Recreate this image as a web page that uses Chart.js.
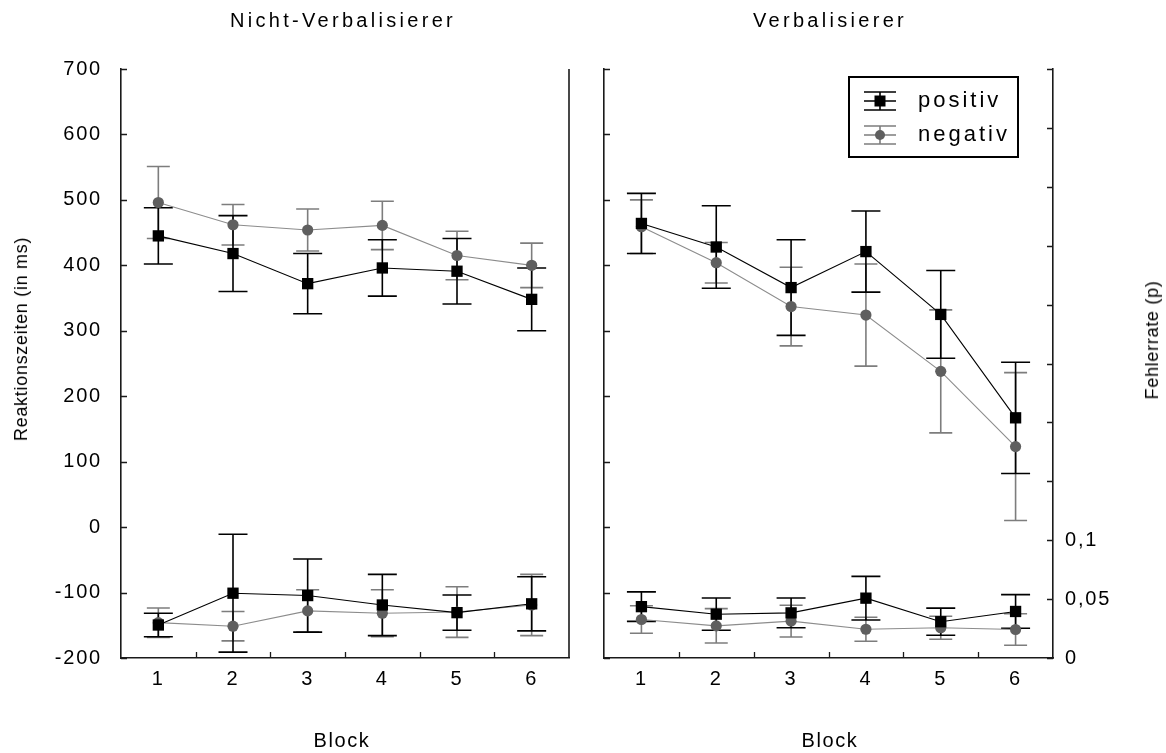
<!DOCTYPE html>
<html lang="de">
<head>
<meta charset="utf-8">
<title>Reaktionszeiten und Fehlerrate</title>
<script src="https://cdn.jsdelivr.net/npm/chart.js@4.4.1/dist/chart.umd.min.js"></script>
<style>
  body { margin: 0; background: #fff; }
  #wrap { position: relative; width: 1166px; height: 753px; font-family: Arial, "Liberation Sans", sans-serif; color: #000; overflow: hidden; }
  canvas { position: absolute; top: 0; }
  #leftChart { left: 0; }
  #rightChart { left: 580px; }
  .lbl { position: absolute; white-space: nowrap; line-height: 1; transform: translate(-50%, -50%); }
  .rot { transform: translate(-50%, -50%) rotate(-90deg); }
</style>
</head>
<body>
<div id="wrap">
  <canvas id="leftChart" width="580" height="753"></canvas>
  <canvas id="rightChart" width="586" height="753"></canvas>

  <div class="lbl" style="left:343px;top:20px;font-size:20px;letter-spacing:3.3px">Nicht-Verbalisierer</div>
  <div class="lbl" style="left:830px;top:20px;font-size:20px;letter-spacing:3.3px">Verbalisierer</div>
  <div class="lbl" style="left:342px;top:740px;font-size:20px;letter-spacing:1.6px">Block</div>
  <div class="lbl" style="left:830px;top:740px;font-size:20px;letter-spacing:1.6px">Block</div>
  <div class="lbl rot" style="left:21px;top:339px;font-size:18px;letter-spacing:0.7px">Reaktionszeiten (in ms)</div>
  <div class="lbl rot" style="left:1152px;top:340px;font-size:18px;letter-spacing:0.7px">Fehlerrate (p)</div>
</div>

<script>
const blocks = ['1', '2', '3', '4', '5', '6'];

// Nicht-Verbalisierer: Reaktionszeiten (ms) und Fehlerraten (p), jeweils Mittelwert und Fehlerbalken
const nvPosRT = [445, 418, 372, 396, 391, 348];
const nvPosRTErr = [43, 58, 46, 43, 50, 48];
const nvNegRT = [496, 462, 454, 461, 415, 400];
const nvNegRTErr = [55, 31, 32, 37, 37, 34];
const nvPosFR = [0.028, 0.055, 0.053, 0.045, 0.0385, 0.046];
const nvPosFRErr = [0.010, 0.050, 0.031, 0.026, 0.015, 0.023];
const nvNegFR = [0.030, 0.027, 0.040, 0.038, 0.039, 0.045];
const nvNegFRErr = [0.0125, 0.0125, 0.018, 0.020, 0.0215, 0.026];

// Verbalisierer
const vPosRT = [464, 428, 366, 421, 325, 167];
const vPosRTErr = [46, 63, 73, 62, 67, 85];
const vNegRT = [459, 404, 337, 324, 238, 123];
const vNegRTErr = [41, 31, 60, 78, 94, 113];
const vPosFR = [0.0436, 0.0372, 0.0383, 0.0508, 0.0308, 0.0395];
const vPosFRErr = [0.0125, 0.0137, 0.0126, 0.0185, 0.0115, 0.0143];
const vNegFR = [0.0327, 0.0273, 0.0313, 0.0244, 0.0257, 0.0242];
const vNegFRErr = [0.0117, 0.0146, 0.0135, 0.0102, 0.0098, 0.0134];

// Achsen
const rtMin = -200, rtMax = 700, rtStep = 100;
const frMin = 0, frMax = 0.5, frStep = 0.05;
const frLabelValues = [0, 0.05, 0.1];
const frLabelTexts = ['0', '0,05', '0,1'];

const seriesNames = ['positiv', 'negativ'];

const FONT = 'Arial, "Liberation Sans", sans-serif';
const AXIS_COLOR = '#1a1a1a';
const POS_STYLE = { line: '#000', point: '#000', bar: '#000', cap: 14.5, shape: 'rect', radius: 8 };
const NEG_STYLE = { line: '#8c8c8c', point: '#5f5f5f', bar: '#7d7d7d', cap: 11.5, shape: 'circle', radius: 5.6 };

function series(values, errors, style, axis, order) {
    return {
        data: values,
        errors: errors,
        errColor: style.bar,
        capHalf: style.cap,
        yAxisID: axis,
        order: order,
        borderColor: style.line,
        borderWidth: 1.1,
        backgroundColor: style.point,
        pointStyle: style.shape,
        pointRadius: style.radius,
        pointHoverRadius: style.radius,
        pointBackgroundColor: style.point,
        pointBorderColor: style.point,
        pointBorderWidth: 0,
        tension: 0,
        fill: false
    };
}

// Fehlerbalken unter den Punkten
const errorBars = {
    id: 'errorBars',
    beforeDatasetsDraw(chart) {
        const ctx = chart.ctx;
        const sets = chart.data.datasets.map((ds, i) => i).sort((a, b) => chart.data.datasets[b].order - chart.data.datasets[a].order);
        ctx.save();
        sets.forEach(i => {
            const ds = chart.data.datasets[i];
            const meta = chart.getDatasetMeta(i);
            const scale = chart.scales[ds.yAxisID];
            ctx.strokeStyle = ds.errColor;
            ctx.lineWidth = 1.6;
            ctx.beginPath();
            meta.data.forEach((pt, j) => {
                const top = scale.getPixelForValue(ds.data[j] + ds.errors[j]);
                const bot = scale.getPixelForValue(ds.data[j] - ds.errors[j]);
                ctx.moveTo(pt.x, top); ctx.lineTo(pt.x, bot);
                ctx.moveTo(pt.x - ds.capHalf, top); ctx.lineTo(pt.x + ds.capHalf, top);
                ctx.moveTo(pt.x - ds.capHalf, bot); ctx.lineTo(pt.x + ds.capHalf, bot);
            });
            ctx.stroke();
        });
        ctx.restore();
    }
};

// kurze, nach innen zeigende Teilstriche
const innerTicks = {
    id: 'innerTicks',
    afterDraw(chart, args, opts) {
        const { ctx, chartArea: a, scales } = chart;
        const len = 6;
        ctx.save();
        ctx.strokeStyle = AXIS_COLOR;
        ctx.lineWidth = 1.3;
        ctx.beginPath();
        scales.y.ticks.forEach((t, i) => {
            const py = Math.round(scales.y.getPixelForTick(i)) + 0.5;
            ctx.moveTo(a.left, py); ctx.lineTo(a.left + len, py);
        });
        if (opts.rightTicks) {
            scales.y2.ticks.forEach((t, i) => {
                const py = Math.round(scales.y2.getPixelForTick(i)) + 0.5;
                ctx.moveTo(a.right, py); ctx.lineTo(a.right - len, py);
            });
        }
        for (let i = 0; i < blocks.length - 1; i++) {
            const px = Math.round((scales.x.getPixelForValue(i) + scales.x.getPixelForValue(i + 1)) / 2) + 0.5;
            ctx.moveTo(px, a.bottom); ctx.lineTo(px, a.bottom - len);
        }
        ctx.stroke();
        if (opts.rightLine) {
            ctx.lineWidth = 1.6;
            ctx.beginPath();
            ctx.moveTo(a.right, a.top); ctx.lineTo(a.right, a.bottom);
            ctx.stroke();
        }
        ctx.restore();
    }
};

// Legende mit Rahmen und Fehlerbalken-Symbol
const boxLegend = {
    id: 'boxLegend',
    afterDraw(chart, args, opts) {
        if (!opts.show) return;
        const { ctx, chartArea: a } = chart;
        const right = a.right - 35, top = a.top + 8, w = 169, h = 80;
        ctx.save();
        ctx.strokeStyle = '#000';
        ctx.lineWidth = 2;
        ctx.strokeRect(right - w, top, w, h);
        const styles = [POS_STYLE, NEG_STYLE];
        seriesNames.forEach((name, i) => {
            const st = styles[i];
            const cy = top + 24 + i * 34;
            const cx = right - w + 31;
            ctx.strokeStyle = st.bar;
            ctx.lineWidth = 1.6;
            ctx.beginPath();
            ctx.moveTo(cx, cy - 9); ctx.lineTo(cx, cy + 9);
            ctx.moveTo(cx - 16, cy - 9); ctx.lineTo(cx + 16, cy - 9);
            ctx.moveTo(cx - 16, cy + 9); ctx.lineTo(cx + 16, cy + 9);
            ctx.moveTo(cx - 16, cy); ctx.lineTo(cx + 16, cy);
            ctx.stroke();
            ctx.fillStyle = st.point;
            if (st.shape === 'rect') {
                ctx.fillRect(cx - 5.5, cy - 5.5, 11, 11);
            } else {
                ctx.beginPath(); ctx.arc(cx, cy, 5, 0, Math.PI * 2); ctx.fill();
            }
            ctx.fillStyle = '#000';
            ctx.font = '22px ' + FONT;
            ctx.letterSpacing = '3px';
            ctx.textBaseline = 'middle';
            ctx.textAlign = 'left';
            ctx.fillText(name, cx + 38, cy);
        });
        ctx.restore();
    }
};

// Sperrschrift wie im Original
const spacing = {
    id: 'spacing',
    beforeUpdate(chart) { chart.ctx.letterSpacing = '1.8px'; },
    beforeDraw(chart) { chart.ctx.letterSpacing = '1.8px'; }
};

function makeChart(canvasId, sets, side) {
    const isLeft = side === 'left';
    return new Chart(document.getElementById(canvasId), {
        type: 'line',
        data: { labels: blocks, datasets: sets },
        options: {
            responsive: false,
            animation: false,
            events: [],
            layout: { padding: { top: 69, bottom: 0, left: 0, right: isLeft ? 11 : 0 } },
            plugins: {
                legend: { display: false },
                tooltip: { enabled: false },
                innerTicks: { rightTicks: !isLeft, rightLine: isLeft },
                boxLegend: { show: !isLeft }
            },
            scales: {
                x: {
                    type: 'category',
                    offset: true,
                    grid: { display: false, drawTicks: false },
                    border: { display: true, color: AXIS_COLOR, width: 1.6 },
                    ticks: { color: '#000', font: { family: FONT, size: 20 }, padding: 9, maxRotation: 0 },
                    afterFit(scale) { scale.height = 95; }
                },
                y: {
                    position: 'left',
                    min: rtMin, max: rtMax,
                    grid: { display: false, drawTicks: false },
                    border: { display: true, color: AXIS_COLOR, width: 1.6 },
                    ticks: {
                        display: isLeft,
                        stepSize: rtStep,
                        color: '#000',
                        font: { family: FONT, size: 20 },
                        padding: 19
                    },
                    afterFit(scale) { scale.width = isLeft ? 121 : 24; }
                },
                y2: {
                    position: 'right',
                    display: !isLeft,
                    min: frMin, max: frMax,
                    grid: { display: false, drawTicks: false },
                    border: { display: true, color: AXIS_COLOR, width: 1.6 },
                    ticks: {
                        stepSize: frStep,
                        autoSkip: false,
                        color: '#000',
                        font: { family: FONT, size: 20 },
                        padding: 12,
                        callback(v) {
                            const k = frLabelValues.findIndex(x => Math.abs(x - v) < 1e-6);
                            return k >= 0 ? frLabelTexts[k] : '';
                        }
                    },
                    afterFit(scale) { scale.width = isLeft ? 0 : 113; }
                }
            }
        },
        plugins: [spacing, errorBars, innerTicks, boxLegend]
    });
}

makeChart('leftChart', [
    series(nvPosRT, nvPosRTErr, POS_STYLE, 'y', 0),
    series(nvPosFR, nvPosFRErr, POS_STYLE, 'y2', 1),
    series(nvNegRT, nvNegRTErr, NEG_STYLE, 'y', 2),
    series(nvNegFR, nvNegFRErr, NEG_STYLE, 'y2', 3)
], 'left');

makeChart('rightChart', [
    series(vPosRT, vPosRTErr, POS_STYLE, 'y', 0),
    series(vPosFR, vPosFRErr, POS_STYLE, 'y2', 1),
    series(vNegRT, vNegRTErr, NEG_STYLE, 'y', 2),
    series(vNegFR, vNegFRErr, NEG_STYLE, 'y2', 3)
], 'right');
</script>
</body>
</html>
